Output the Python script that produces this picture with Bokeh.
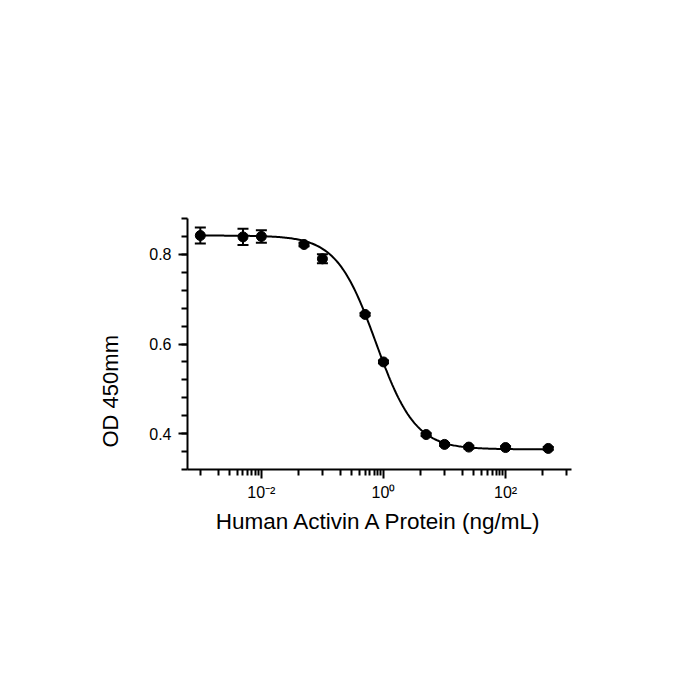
import numpy as np
from bokeh.plotting import figure
from bokeh.models import FixedTicker, Whisker, ColumnDataSource, Title, TeeHead
from bokeh.embed import file_html
from bokeh.resources import INLINE

# ---- data ----
conc = [0.001, 0.005, 0.01, 0.05, 0.1, 0.5, 1, 5, 10, 25, 100, 500]
od = [0.842, 0.839, 0.840, 0.822, 0.790, 0.666, 0.560, 0.398, 0.376, 0.370, 0.369, 0.367]
err = [0.018, 0.018, 0.014, 0.004, 0.010, 0.003, 0.003, 0.003, 0.003, 0.003, 0.003, 0.003]

# 4-parameter logistic fit shown in the reference
fit_top = 0.842
fit_bottom = 0.365
fit_ec50 = 0.75
fit_hill = 1.35

x_major = [0.01, 1, 100]
x_labels = {0.01: "10\u207b\u00b2", 1: "10\u2070", 100: "10\u00b2"}
y_major = [0.4, 0.6, 0.8]
y_labels = ["0.4", "0.6", "0.8"]

FONT = "Liberation Sans"

p = figure(width=684, height=684, x_axis_type="log",
           x_range=(10 ** -3.21, 10 ** 3.08), y_range=(0.32, 0.88),
           output_backend="svg", toolbar_location=None,
           min_border_left=187, min_border_right=113,
           min_border_top=218, min_border_bottom=215)
p.outline_line_color = None
p.xgrid.visible = False
p.ygrid.visible = False
p.background_fill_color = "white"
p.border_fill_color = "white"

# curve from fit parameters
xc = np.logspace(np.log10(conc[0]), np.log10(conc[-1]), 300)
yc = fit_bottom + (fit_top - fit_bottom) / (1 + (xc / fit_ec50) ** fit_hill)
p.line(xc, yc, line_color="black", line_width=2)

src = ColumnDataSource(dict(x=conc, y=od,
                            lo=[a - b for a, b in zip(od, err)],
                            hi=[a + b for a, b in zip(od, err)]))
w = Whisker(source=src, base="x", lower="lo", upper="hi",
            line_color="black", line_width=2,
            upper_head=TeeHead(size=11, line_color="black", line_width=2),
            lower_head=TeeHead(size=11, line_color="black", line_width=2))
p.add_layout(w)
p.scatter("x", "y", source=src, size=10, color="black")

# x ticks: major every 2 decades, minor as in reference
x_minor = []
for b in [1e-3, 1e-1, 1e1]:
    x_minor += [k * b for k in range(1, 10)]
for b in [1e-2, 1, 1e2]:
    x_minor += [4 * b]
x_minor.append(1e3)
p.xaxis.ticker = FixedTicker(ticks=x_major, minor_ticks=x_minor)
p.xaxis.major_label_overrides = x_labels
p.yaxis.ticker = FixedTicker(ticks=y_major,
                             minor_ticks=[round(0.32 + 0.04 * i, 2) for i in range(15)])
p.yaxis.major_label_overrides = dict(zip(y_major, y_labels))

for ax in [p.xaxis[0], p.yaxis[0]]:
    ax.axis_line_width = 2
    ax.axis_line_color = "black"
    ax.major_tick_line_width = 2
    ax.minor_tick_line_width = 2
    ax.major_tick_line_color = "black"
    ax.minor_tick_line_color = "black"
    ax.major_tick_in = 0
    ax.minor_tick_in = 0
    ax.major_label_text_font = FONT
    ax.major_label_text_font_size = "16px"
    ax.major_label_text_color = "black"

p.xaxis.major_tick_out = 9
p.xaxis.minor_tick_out = 6
p.yaxis.major_tick_out = 9
p.yaxis.minor_tick_out = 6
p.xaxis.major_label_standoff = 5
p.yaxis.major_label_standoff = 7

p.xaxis.axis_label = "Human Activin A Protein (ng/mL)"
p.xaxis.axis_label_text_font = FONT
p.xaxis.axis_label_text_font_size = "22.5px"
p.xaxis.axis_label_text_font_style = "normal"
p.xaxis.axis_label_text_color = "black"
p.xaxis.axis_label_standoff = 5

# y title as a side title, anchored near the bottom like the reference
ytitle = Title(text="OD 450mm", align="left", offset=22, standoff=48,
               text_font=FONT, text_font_size="22px",
               text_font_style="normal", text_color="black")
p.add_layout(ytitle, "left")

open("out.html", "w").write(file_html(p, INLINE))
